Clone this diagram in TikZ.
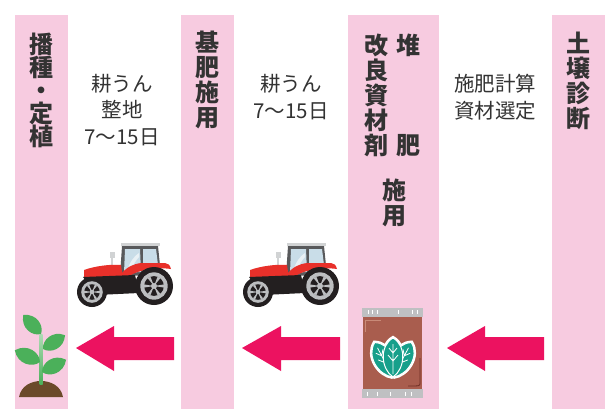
\documentclass[tikz,border=0pt]{standalone}
\usepackage{fontspec}
\setmainfont{Noto Sans CJK JP}
\definecolor{stripepink}{HTML}{F7CBE0}
\definecolor{arrowpink}{HTML}{EC1260}
\definecolor{textgray}{HTML}{333333}
\definecolor{tracred}{HTML}{E8302A}
\definecolor{tracblack}{HTML}{231F20}
\definecolor{wheelgray}{HTML}{BCBEC0}
\definecolor{roofgray}{HTML}{D1D3D4}
\definecolor{cabgray}{HTML}{58595B}
\definecolor{glassblue}{HTML}{C9DDE8}
\definecolor{leafgreen}{HTML}{4BB05A}
\definecolor{soilbrown}{HTML}{6B4A2A}
\definecolor{bagbrown}{HTML}{A95D4E}
\definecolor{baglight}{HTML}{C98A78}
\definecolor{bagdark}{HTML}{6E2E24}
\definecolor{bandgray}{HTML}{BFC0C2}
\definecolor{embteal}{HTML}{17A08B}

\begin{document}
\begin{tikzpicture}[
  x=1pt, y=-1pt,
  stripe/.style={fill=stripepink},
  ttl/.style={font=\bfseries\fontsize{24}{25}\selectfont, align=center, inner sep=0pt, text=textgray},
  note/.style={font=\fontsize{20.5}{26.5}\selectfont, align=center, inner sep=0pt, text=textgray},
  bigarrow/.style={fill=arrowpink},
  wheel/.pic={
    \fill[tracblack] (0,0) circle [radius=1];
    \fill[wheelgray] (0,0) circle [radius=0.72];
    \fill[tracblack] (0,0) circle [radius=0.52];
    \foreach \a in {0,60,...,300}
      \fill[wheelgray] (0,0) -- (\a-9:0.53) -- (\a+9:0.53) -- cycle;
    \fill[wheelgray] (0,0) circle [radius=0.16];
  },
  tractor/.pic={
    \fill[roofgray] (44,0) rectangle (83,3);
    \fill[cabgray] (45,3) -- (81,3) -- (84,32) -- (43,33) -- cycle;
    \fill[glassblue] (48,6) -- (63,6) -- (64,29) -- (47,30) -- cycle;
    \fill[glassblue] (66,6) -- (79,6) -- (81,22) -- (66,24) -- cycle;
    \fill[white, opacity=.6] (50,28) .. controls (53,19) and (57,13) .. (62,10) -- (62,14) .. controls (59,17) and (56,22) .. (54,28) -- cycle;
    \draw[roofgray, line width=2.5pt] (35,24) -- (35,11);
    \fill[roofgray] (33,9) rectangle (38,15);
    \fill[tracred] (7,27) .. controls (18,23) and (34,21) .. (44,22) -- (46,36) -- (7,37) -- cycle;
    \fill[tracred] (44,31) .. controls (50,24) and (56,21) .. (64,20) -- (88,20) .. controls (91,20) and (93,22) .. (94,26) .. controls (80,24) and (60,26) .. (48,36) -- cycle;
    \fill[tracblack] (6,34) -- (58,32) -- (62,50) -- (20,52) -- cycle;
    \pic[scale=15] at (15,49) {wheel};
    \pic[scale=19] at (77,43) {wheel};
  },
  leaf/.pic={
    \fill[leafgreen] (0,0) .. controls (4,8) and (18,11) .. (26,0) .. controls (18,-11) and (4,-8) .. (0,0);
  },
  embback/.pic={
    \filldraw[white, line width=4pt] (0,0) .. controls (8,12) and (31,14) .. (39,0) .. controls (31,-14) and (8,-12) .. (0,0);
  },
  embleaf/.pic={
    \filldraw[fill=embteal, draw=white, line width=1pt] (0,0) .. controls (8,12) and (31,14) .. (39,0) .. controls (31,-14) and (8,-12) .. (0,0);
    \draw[white, line width=0.8pt] (3,0) -- (33,0) (16,0) -- (22,5) (16,0) -- (22,-5) (24,0) -- (29,4) (24,0) -- (29,-4);
  }
]
\path[use as bounding box, fill=white] (0,0) rectangle (613,416);

\fill[stripe] (15,15) rectangle (68,409);
\fill[stripe] (181,15) rectangle (234,409);
\fill[stripe] (348,15) rectangle (439,409);
\fill[stripe] (552,15) rectangle (605,409);

\node[ttl, font=\bfseries\fontsize{24}{23}\selectfont] (sowing) at (41,90) {播\\種\\・\\定\\植};
\node[ttl] (basal) at (207,80) {基\\肥\\施\\用};
\node[ttl] (amend) at (376,95) {改\\良\\資\\材\\剤};
\node[ttl] (compostA) at (408,45) {堆};
\node[ttl] (compostB) at (408,146) {肥};
\node[ttl] (compostC) at (394,203) {施\\用};
\node[ttl] (soiltest) at (578,81) {土\\壌\\診\\断};

\node[note] (tillA) at (122,110) {耕うん\\整地\\7〜15日};
\node[note] (tillB) at (291,97) {耕うん\\7〜15日};
\node[note] (calc) at (495,97) {施肥計算\\資材選定};

\pic at (77,243) {tractor};
\pic at (243,243) {tractor};

% seedling
\fill[soilbrown] (19,397) .. controls (21,386) and (31,381) .. (41,381) .. controls (51,381) and (61,386) .. (63,397) -- cycle;
\shade[top color=white!55!leafgreen, bottom color=leafgreen] (39.5,334) rectangle (42.5,384);
\pic[rotate=133] at (41,334) {leaf};
\pic[rotate=32] at (43,349) {leaf};
\pic[rotate=155, scale=1.07] at (40,362) {leaf};
\pic[rotate=27, scale=1.04] at (42,372) {leaf};

% compost bag
\fill[bandgray] (362,308) rectangle (423,317);
\fill[bagbrown] (363,317) rectangle (422,389);
\fill[bandgray] (362,389) rectangle (423,398);
\foreach \t in {368,372,377,398,412,417}
  \draw[white, line width=0.6pt] (\t,310) -- (\t,314);
\foreach \t in {367,377,390,405,411}
  \draw[white, line width=0.6pt] (\t,392) -- (\t,396);
\draw[baglight, line width=0.6pt] (365,332) -- (365,320) -- (381,320);
\draw[bagdark, line width=0.8pt] (420,358) -- (420,383) .. controls (420,386) .. (408,386);
\pic[rotate=118] at (393,377) {embback};
\pic[rotate=62] at (393,377) {embback};
\pic[rotate=90] at (393,377) {embback};
\pic[rotate=118] at (393,377) {embleaf};
\pic[rotate=62] at (393,377) {embleaf};
\pic[rotate=90] at (393,377) {embleaf};

\fill[bigarrow] (76,348) -- ++(38,-22) -- ++(0,11) -- ++(60,0) -- ++(0,23) -- ++(-60,0) -- ++(0,11) -- cycle;
\fill[bigarrow] (242,348) -- ++(39,-22) -- ++(0,11) -- ++(59,0) -- ++(0,23) -- ++(-59,0) -- ++(0,11) -- cycle;
\fill[bigarrow] (447,348) -- ++(38,-22) -- ++(0,11) -- ++(59,0) -- ++(0,23) -- ++(-59,0) -- ++(0,11) -- cycle;
\end{tikzpicture}
\end{document}
